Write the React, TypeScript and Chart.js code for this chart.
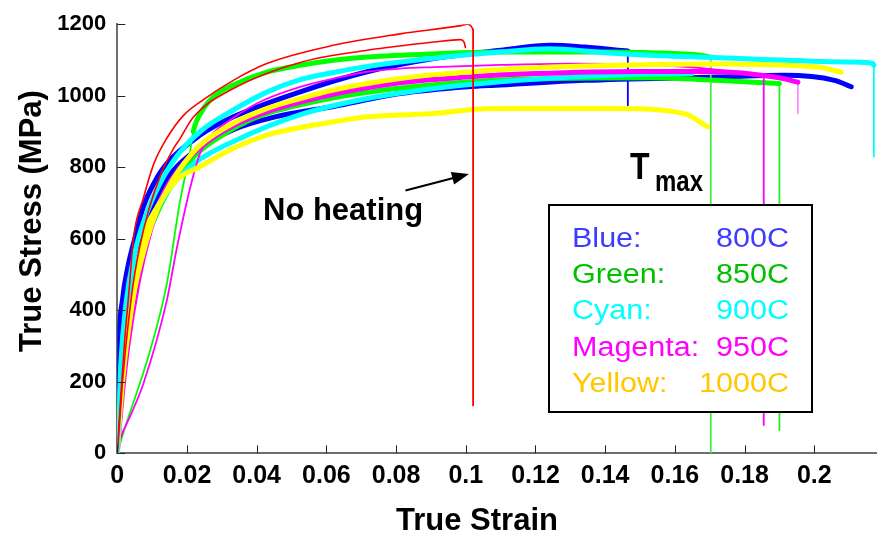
import React, { useEffect, useRef } from 'react';
import { Chart, registerables } from 'chart.js';
Chart.register(...registerables);

// ---- axis ticks ----
const X_TICKS = [0, 0.02, 0.04, 0.06, 0.08, 0.1, 0.12, 0.14, 0.16, 0.18, 0.2];
const Y_TICKS = [0, 200, 400, 600, 800, 1000, 1200];
const X_MAX = 0.218;
const Y_MAX = 1200;

// ---- curves: [true strain, true stress MPa] ----
const RED_A = [
  [0, 0], [0.001, 160], [0.002, 300], [0.0035, 470], [0.0046, 600], [0.0075, 714], [0.0105, 810],
  [0.0142, 881], [0.019, 945], [0.0238, 983], [0.0333, 1043], [0.0429, 1090], [0.062, 1141],
  [0.0812, 1173], [0.0985, 1196], [0.1005, 1200], [0.1015, 1195], [0.1021, 1185],
];
const RED_B = [
  [0, 0], [0.0015, 200], [0.003, 350], [0.0045, 470], [0.0065, 580], [0.009, 680], [0.0125, 780],
  [0.016, 850], [0.018, 880], [0.0218, 940], [0.0333, 1020], [0.0525, 1093], [0.0717, 1127],
  [0.0908, 1150], [0.0985, 1157], [0.0995, 1150], [0.0999, 1135],
];
const CYAN_A = [
  [0, 0], [0.001, 250], [0.0025, 420], [0.005, 560], [0.008, 660], [0.012, 750], [0.017, 830],
  [0.0238, 900], [0.0333, 960], [0.0429, 1010], [0.0525, 1045], [0.062, 1065], [0.0717, 1082],
  [0.0908, 1105], [0.11, 1122], [0.124, 1131], [0.14, 1120], [0.153, 1113], [0.1817, 1103],
  [0.2106, 1094], [0.2168, 1090], [0.2171, 1085],
];
const CYAN_B = [
  [0, 0], [0.001, 200], [0.003, 400], [0.006, 540], [0.01, 650], [0.015, 740], [0.022, 810],
  [0.0333, 872], [0.0525, 947], [0.0717, 992], [0.0908, 1020], [0.11, 1039], [0.13, 1052],
  [0.15, 1060], [0.165, 1062],
];
const YELLOW_A = [
  [0, 0], [0.0005, 100], [0.0015, 220], [0.003, 340], [0.005, 460], [0.008, 580], [0.011, 670],
  [0.015, 750], [0.0195, 815], [0.0238, 862], [0.0333, 923], [0.0429, 964], [0.0525, 992],
  [0.062, 1016], [0.0717, 1034], [0.0812, 1048], [0.0908, 1059], [0.1004, 1066], [0.11, 1073],
  [0.134, 1083], [0.1722, 1089], [0.201, 1080], [0.2077, 1066],
];
const YELLOW_B = [
  [0, 0], [0.0008, 120], [0.002, 250], [0.004, 400], [0.006, 520], [0.0084, 630], [0.0113, 686],
  [0.0171, 765], [0.0238, 802], [0.0333, 853], [0.0429, 890], [0.0525, 911], [0.062, 927],
  [0.0717, 941], [0.0812, 946], [0.0908, 950], [0.1004, 960], [0.11, 964], [0.1243, 964],
  [0.1435, 964], [0.1627, 950], [0.1694, 913],
];
const MAGENTA_A = [
  [0, 0], [0.0008, 37], [0.004, 110], [0.0075, 195], [0.0142, 427], [0.017, 570], [0.0209, 742],
  [0.0238, 840], [0.0265, 885], [0.0324, 932], [0.041, 983], [0.0525, 1025], [0.062, 1048],
  [0.0717, 1067], [0.0812, 1076], [0.0908, 1080], [0.11, 1086], [0.13, 1090], [0.15, 1088],
  [0.17, 1075], [0.1855, 1055],
];
const MAGENTA_B = [
  [0, 0], [0.001, 120], [0.003, 300], [0.006, 480], [0.0094, 620], [0.013, 720], [0.019, 810],
  [0.0286, 890], [0.04, 945], [0.06, 1000], [0.08, 1035], [0.1, 1052], [0.12, 1062], [0.15, 1068],
  [0.17, 1068], [0.19, 1050], [0.1953, 1038],
];
const BLUE_A = [
  [0, 0], [0.0005, 300], [0.0015, 430], [0.003, 520], [0.005, 600], [0.0075, 690], [0.0105, 755],
  [0.0142, 810], [0.0238, 890], [0.0333, 941], [0.0525, 1011], [0.0717, 1067], [0.0908, 1104],
  [0.11, 1127], [0.1243, 1141], [0.134, 1136], [0.1465, 1125],
];
const BLUE_B = [
  [0, 0], [0.0008, 250], [0.002, 400], [0.004, 520], [0.007, 620], [0.011, 710], [0.016, 790],
  [0.023, 850], [0.0333, 905], [0.045, 940], [0.062, 970], [0.0812, 1006], [0.1004, 1025],
  [0.11, 1030], [0.134, 1043], [0.1722, 1052], [0.1914, 1057], [0.2058, 1043], [0.2106, 1025],
];
const GREEN_A = [
  [0, 0], [0.0017, 56], [0.0094, 287], [0.0142, 473], [0.018, 705], [0.0209, 844], [0.0218, 900],
  [0.0245, 960], [0.028, 1000], [0.0333, 1030], [0.0429, 1066], [0.0525, 1085], [0.062, 1099],
  [0.0717, 1108], [0.0908, 1117], [0.11, 1122], [0.1243, 1122], [0.14, 1122], [0.153, 1120],
  [0.1675, 1113], [0.1703, 1108],
];
const GREEN_B = [
  [0, 0], [0.001, 200], [0.003, 380], [0.006, 530], [0.01, 640], [0.015, 740], [0.022, 830],
  [0.0286, 880], [0.04, 940], [0.06, 990], [0.08, 1020], [0.11, 1044], [0.1243, 1048],
  [0.153, 1050], [0.172, 1043], [0.19, 1034],
];

// ---- fracture drops: [strain, stress] top then bottom ----
const RED_A_DROP = [[0.1021, 1185], [0.1021, 134]];
const CYAN_A_DROP = [[0.2171, 1085], [0.2171, 830]];
const MAGENTA_A_DROP = [[0.1855, 1055], [0.1855, 79]];
const MAGENTA_B_DROP = [[0.1953, 1038], [0.1953, 950]];
const BLUE_A_DROP = [[0.1465, 1125], [0.1465, 973]];
const GREEN_A_DROP = [[0.1703, 1108], [0.1703, 0]];
const GREEN_B_DROP = [[0.19, 1034], [0.19, 65]];

// ---- legend (T max) ----
const LEGEND_NAMES = ['Blue:', 'Green:', 'Cyan:', 'Magenta:', 'Yellow:'];
const LEGEND_TEMPS = ['800C', '850C', '900C', '950C', '1000C'];
const LEGEND_COLORS = ['#3c3cff', '#00c000', '#00ffff', '#ff00ff', '#ffc800'];

// annotation arrow (data coords)
const ARROW_TAIL = [0.0827, 735];
const ARROW_TIP = [0.1009, 781];

const FONT = '"Liberation Sans", Arial, sans-serif';

function mk(data: number[][], color: string, width: number, thinUntil = -1, smooth = true) {
  return {
    data: data.map(([x, y]) => ({ x, y })),
    borderColor: color,
    backgroundColor: color,
    borderWidth: width,
    showLine: true,
    pointRadius: 0,
    fill: false,
    cubicInterpolationMode: smooth ? ('monotone' as const) : ('default' as const),
    tension: 0,
    borderJoinStyle: 'round' as const,
    borderCapStyle: 'round' as const,
    segment: {
      borderWidth: (c: any) => (c.p1.parsed.x <= thinUntil ? 1.8 : width),
    },
  };
}

const annotPlugin = {
  id: 'annot',
  afterDatasetsDraw(chart: any) {
    const { ctx, chartArea, scales } = chart;
    const x = scales.x, y = scales.y;
    ctx.save();
    // inward tick marks
    ctx.strokeStyle = '#222';
    ctx.lineWidth = 1;
    X_TICKS.forEach((v) => {
      const px = Math.round(x.getPixelForValue(v)) + 0.5;
      ctx.beginPath();
      ctx.moveTo(px, chartArea.bottom);
      ctx.lineTo(px, chartArea.bottom - 8);
      ctx.stroke();
    });
    Y_TICKS.forEach((v) => {
      const py = Math.round(y.getPixelForValue(v)) + 0.5;
      ctx.beginPath();
      ctx.moveTo(chartArea.left, py);
      ctx.lineTo(chartArea.left + 8, py);
      ctx.stroke();
    });

    // arrow
    const tx = x.getPixelForValue(ARROW_TAIL[0]), ty = y.getPixelForValue(ARROW_TAIL[1]);
    const hx = x.getPixelForValue(ARROW_TIP[0]), hy = y.getPixelForValue(ARROW_TIP[1]);
    const dx = hx - tx, dy = hy - ty, len = Math.hypot(dx, dy);
    const ux = dx / len, uy = dy / len, nx = -uy, ny = ux;
    const hl = 17, hw = 6.5;
    const bx = hx - ux * hl, by = hy - uy * hl;
    ctx.strokeStyle = '#000';
    ctx.lineWidth = 2;
    ctx.beginPath();
    ctx.moveTo(tx, ty);
    ctx.lineTo(bx + ux * 2, by + uy * 2);
    ctx.stroke();
    ctx.fillStyle = '#000';
    ctx.beginPath();
    ctx.moveTo(hx, hy);
    ctx.lineTo(bx + nx * hw, by + ny * hw);
    ctx.lineTo(bx - nx * hw, by - ny * hw);
    ctx.closePath();
    ctx.fill();

    // "No heating"
    ctx.fillStyle = '#000';
    ctx.textAlign = 'left';
    ctx.textBaseline = 'alphabetic';
    ctx.font = `bold 31px ${FONT}`;
    ctx.fillText('No heating', 263, 220);

    // T max
    ctx.save();
    ctx.translate(630, 178.5);
    ctx.scale(1, 1.15);
    ctx.font = `bold 32px ${FONT}`;
    ctx.fillText('T', 0, 0);
    ctx.restore();
    ctx.save();
    ctx.translate(655, 190.5);
    ctx.scale(1, 1.2);
    ctx.font = `bold 24px ${FONT}`;
    ctx.fillText('max', 0, 0);
    ctx.restore();

    // legend box
    ctx.fillStyle = '#fff';
    ctx.fillRect(549, 205, 263, 207);
    ctx.strokeStyle = '#000';
    ctx.lineWidth = 2;
    ctx.strokeRect(549, 205, 263, 207);
    ctx.font = `27px ${FONT}`;
    LEGEND_NAMES.forEach((name, i) => {
      const base = 247 + i * 36.2;
      ctx.fillStyle = LEGEND_COLORS[i];
      ctx.save();
      ctx.translate(572, base);
      ctx.scale(1.13, 1);
      ctx.textAlign = 'left';
      ctx.fillText(name, 0, 0);
      ctx.restore();
      ctx.save();
      ctx.translate(789, base);
      ctx.scale(1.13, 1);
      ctx.textAlign = 'right';
      ctx.fillText(LEGEND_TEMPS[i], 0, 0);
      ctx.restore();
    });

    // axis titles
    ctx.fillStyle = '#000';
    ctx.font = `bold 31px ${FONT}`;
    ctx.textAlign = 'center';
    ctx.textBaseline = 'alphabetic';
    ctx.fillText('True Strain', 477, 530);
    ctx.save();
    ctx.translate(41, 221);
    ctx.rotate(-Math.PI / 2);
    ctx.fillText('True Stress (MPa)', 0, 0);
    ctx.restore();

    ctx.restore();
  },
};

export default function App() {
  const ref = useRef<HTMLCanvasElement | null>(null);
  useEffect(() => {
    document.body.style.margin = '0';
    const canvas = ref.current!;
    const W = 5;
    const datasets = [
      mk(RED_A, '#ff0000', 1.6),
      mk(RED_A_DROP, '#ff0000', 1.8, -1, false),
      mk(RED_B, '#ff0000', 1.6),
      mk(CYAN_A, '#00ffff', W),
      mk(CYAN_A_DROP, '#00ffff', 1.8, -1, false),
      mk(YELLOW_A, '#ffff00', W),
      mk(YELLOW_B, '#ffff00', W),
      mk(MAGENTA_A, '#ff00ff', 1.8),
      mk(MAGENTA_A_DROP, '#ff00ff', 1.8, -1, false),
      mk(MAGENTA_B, '#ff00ff', W),
      mk(MAGENTA_B_DROP, '#ff80ff', 1.6, -1, false),
      mk(CYAN_B, '#00ffff', W),
      mk(GREEN_A, '#00ff00', W, 0.0218),
      mk(GREEN_A_DROP, '#44ee44', 1.8, -1, false),
      mk(GREEN_B, '#00ff00', W),
      mk(GREEN_B_DROP, '#22ee22', 1.8, -1, false),
      mk(BLUE_B, '#0000ff', W),
      mk(BLUE_A, '#0000ff', W),
      mk(BLUE_A_DROP, '#0000ff', 1.8, -1, false),
    ];
    const chart = new Chart(canvas, {
      type: 'scatter',
      data: { datasets: datasets as any },
      options: {
        animation: false,
        responsive: false,
        devicePixelRatio: 1,
        layout: { padding: { top: 22, right: 0, left: 0, bottom: 0 } },
        plugins: { legend: { display: false }, tooltip: { enabled: false } },
        scales: {
          x: {
            type: 'linear',
            min: 0,
            max: X_MAX,
            afterBuildTicks: (s: any) => { s.ticks = X_TICKS.map((value) => ({ value })); },
            afterFit: (s: any) => { s.height = 81.7; },
            grid: { display: true, drawOnChartArea: false, drawTicks: false },
            border: { display: true, color: '#6e6e6e', width: 2 },
            ticks: {
              color: '#000',
              padding: 8,
              maxRotation: 0,
              autoSkip: false,
              font: { family: FONT, size: 25, weight: 'bold' },
              callback: (v: any) => String(v),
            },
          },
          y: {
            type: 'linear',
            min: 0,
            max: Y_MAX,
            afterBuildTicks: (s: any) => { s.ticks = Y_TICKS.map((value) => ({ value })); },
            afterFit: (s: any) => { s.width = 117.3; },
            grid: { display: true, drawOnChartArea: false, drawTicks: false },
            border: { display: true, color: '#6e6e6e', width: 2 },
            ticks: {
              color: '#000',
              padding: 11,
              autoSkip: false,
              font: { family: FONT, size: 22, weight: 'bold' },
              callback: (v: any) => String(v),
            },
          },
        },
      },
      plugins: [annotPlugin],
    });
    return () => chart.destroy();
  }, []);
  return (
    <div style={{ width: 877, height: 535 }}>
      <canvas ref={ref} width={877} height={535} style={{ display: 'block' }} />
    </div>
  );
}
